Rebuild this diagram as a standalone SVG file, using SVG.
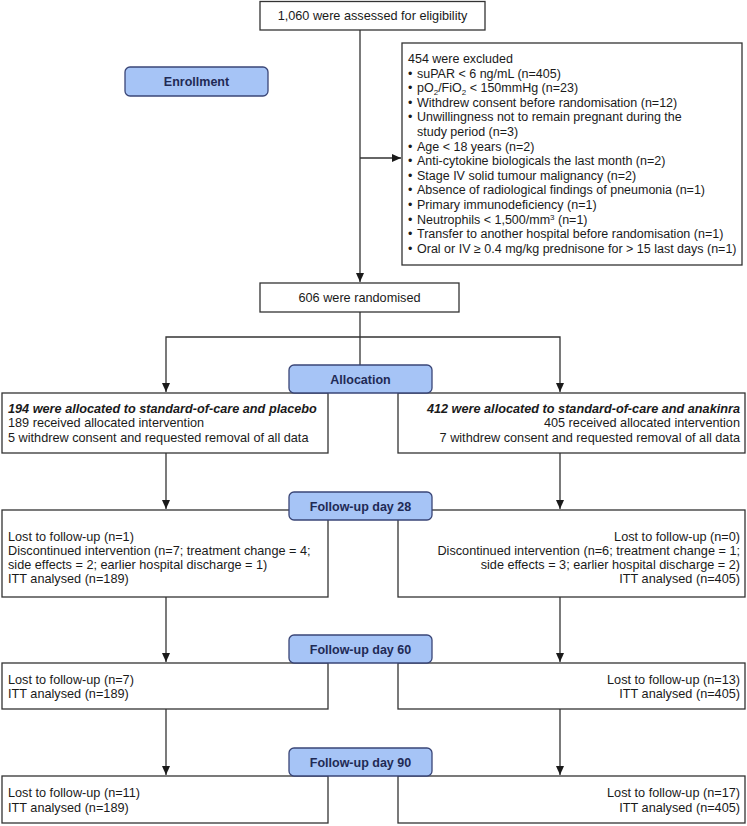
<svg xmlns="http://www.w3.org/2000/svg" width="747" height="826" viewBox="0 0 747 826">
<defs>
<marker id="ah" markerUnits="userSpaceOnUse" markerWidth="9" markerHeight="9" viewBox="0 0 9 9" refX="9" refY="4.5" orient="auto">
<path d="M0,0.5 L9,4.5 L0,8.5 z" fill="#1a1a1a"/>
</marker>
</defs>
<style>
.box{fill:#ffffff;stroke:#333333;stroke-width:1.3}
.lab{fill:#a6c4f6;stroke:#3a4677;stroke-width:1.3}
.t{font-family:"Liberation Sans",Arial,sans-serif;font-size:12.7px;fill:#1a1a1a}
.s{font-family:"Liberation Sans",Arial,sans-serif;font-size:12.5px;fill:#1a1a1a}
.lt{font-family:"Liberation Sans",Arial,sans-serif;font-size:12.5px;font-weight:bold;fill:#1f2a55;text-anchor:middle}
.bi{font-weight:bold;font-style:italic}
.r{text-anchor:end}
.c{text-anchor:middle}
.ln{fill:none;stroke:#333333;stroke-width:1.3}
.sub{font-size:8px}
</style>
<rect width="747" height="826" fill="#ffffff"/>
<g id="connectors">
<path class="ln" d="M360,30 V282" marker-end="url(#ah)"/>
<path class="ln" d="M360,158 H401" marker-end="url(#ah)"/>
<path class="ln" d="M360,312 V365"/>
<path class="ln" d="M360,337 H166 V392" marker-end="url(#ah)"/>
<path class="ln" d="M360,337 H560 V392" marker-end="url(#ah)"/>
<path class="ln" d="M166,453 V509" marker-end="url(#ah)"/>
<path class="ln" d="M560,453 V509" marker-end="url(#ah)"/>
<path class="ln" d="M166,597 V662" marker-end="url(#ah)"/>
<path class="ln" d="M560,597 V662" marker-end="url(#ah)"/>
<path class="ln" d="M166,709 V775" marker-end="url(#ah)"/>
<path class="ln" d="M560,709 V775" marker-end="url(#ah)"/>
</g>
<g id="assessed">
<rect class="box" x="260" y="1.5" width="225" height="28.5"/>
<text class="t c" x="372.5" y="20">1,060 were assessed for eligibility</text>
</g>
<g id="enrollment">
<rect class="lab" x="125" y="67" width="143" height="29" rx="5"/>
<text class="lt" x="196.5" y="86">Enrollment</text>
</g>
<g id="excluded">
<rect class="box" x="402" y="43" width="340" height="222"/>
<text class="s" x="408" y="63">454 were excluded</text>
<text class="s" x="408" y="77.6">•</text><text class="s" x="417" y="77.6">suPAR &lt; 6 ng/mL (n=405)</text>
<text class="s" x="408" y="92.2">•</text><text class="s" x="417" y="92.2">pO<tspan class="sub" dy="3">2</tspan><tspan dy="-3">/FiO</tspan><tspan class="sub" dy="3">2</tspan><tspan dy="-3"> &lt; 150mmHg (n=23)</tspan></text>
<text class="s" x="408" y="106.8">•</text><text class="s" x="417" y="106.8">Withdrew consent before randomisation (n=12)</text>
<text class="s" x="408" y="121.4">•</text><text class="s" x="417" y="121.4">Unwillingness not to remain pregnant during the</text>
<text class="s" x="417" y="136">study period (n=3)</text>
<text class="s" x="408" y="150.6">•</text><text class="s" x="417" y="150.6">Age &lt; 18 years (n=2)</text>
<text class="s" x="408" y="165.2">•</text><text class="s" x="417" y="165.2">Anti-cytokine biologicals the last month (n=2)</text>
<text class="s" x="408" y="179.8">•</text><text class="s" x="417" y="179.8">Stage IV solid tumour malignancy (n=2)</text>
<text class="s" x="408" y="194.4">•</text><text class="s" x="417" y="194.4">Absence of radiological findings of pneumonia (n=1)</text>
<text class="s" x="408" y="209">•</text><text class="s" x="417" y="209">Primary immunodeficiency (n=1)</text>
<text class="s" x="408" y="223.6">•</text><text class="s" x="417" y="223.6">Neutrophils &lt; 1,500/mm<tspan class="sub" dy="-4">3</tspan><tspan dy="4"> (n=1)</tspan></text>
<text class="s" x="408" y="238.2">•</text><text class="s" x="417" y="238.2">Transfer to another hospital before randomisation (n=1)</text>
<text class="s" x="408" y="252.8">•</text><text class="s" x="417" y="252.8">Oral or IV ≥ 0.4 mg/kg prednisone for &gt; 15 last days (n=1)</text>
</g>
<g id="randomised">
<rect class="box" x="260" y="283" width="199" height="29"/>
<text class="t c" x="359.5" y="302">606 were randomised</text>
</g>
<g id="placebo-arm">
<rect class="box" x="2" y="393" width="326" height="60"/>
<text class="t bi" x="8" y="412.5">194 were allocated to standard-of-care and placebo</text>
<text class="t" x="8" y="427">189 received allocated intervention</text>
<text class="t" x="8" y="441.5">5 withdrew consent and requested removal of all data</text>
</g>
<g id="anakinra-arm">
<rect class="box" x="398" y="393" width="347" height="60"/>
<text class="t bi r" x="740" y="412.5">412 were allocated to standard-of-care and anakinra</text>
<text class="t r" x="740" y="427">405 received allocated intervention</text>
<text class="t r" x="740" y="441.5">7 withdrew consent and requested removal of all data</text>
</g>
<g id="placebo-day28">
<rect class="box" x="2" y="510" width="326" height="87"/>
<text class="t" x="8" y="540.5">Lost to follow-up (n=1)</text>
<text class="t" x="8" y="554.5">Discontinued intervention (n=7; treatment change = 4;</text>
<text class="t" x="8" y="568.5">side effects = 2; earlier hospital discharge = 1)</text>
<text class="t" x="8" y="582.5">ITT analysed (n=189)</text>
</g>
<g id="anakinra-day28">
<rect class="box" x="398" y="510" width="347" height="87"/>
<text class="t r" x="740" y="540.5">Lost to follow-up (n=0)</text>
<text class="t r" x="740" y="554.5">Discontinued intervention (n=6; treatment change = 1;</text>
<text class="t r" x="740" y="568.5">side effects = 3; earlier hospital discharge = 2)</text>
<text class="t r" x="740" y="582.5">ITT analysed (n=405)</text>
</g>
<g id="placebo-day60">
<rect class="box" x="2" y="663" width="326" height="46"/>
<text class="t" x="8" y="683.5">Lost to follow-up (n=7)</text>
<text class="t" x="8" y="698">ITT analysed (n=189)</text>
</g>
<g id="anakinra-day60">
<rect class="box" x="398" y="663" width="347" height="46"/>
<text class="t r" x="740" y="683.5">Lost to follow-up (n=13)</text>
<text class="t r" x="740" y="698">ITT analysed (n=405)</text>
</g>
<g id="placebo-day90">
<rect class="box" x="2" y="776" width="326" height="47"/>
<text class="t" x="8" y="797">Lost to follow-up (n=11)</text>
<text class="t" x="8" y="811.5">ITT analysed (n=189)</text>
</g>
<g id="anakinra-day90">
<rect class="box" x="398" y="776" width="347" height="47"/>
<text class="t r" x="740" y="797">Lost to follow-up (n=17)</text>
<text class="t r" x="740" y="811.5">ITT analysed (n=405)</text>
</g>
<g id="allocation">
<rect class="lab" x="289" y="365" width="143" height="28" rx="5"/>
<text class="lt" x="360.5" y="383.5">Allocation</text>
</g>
<g id="followup28">
<rect class="lab" x="289" y="492" width="143" height="28" rx="5"/>
<text class="lt" x="360.5" y="510.5">Follow-up day 28</text>
</g>
<g id="followup60">
<rect class="lab" x="289" y="635" width="143" height="28" rx="5"/>
<text class="lt" x="360.5" y="653.5">Follow-up day 60</text>
</g>
<g id="followup90">
<rect class="lab" x="289" y="748" width="143" height="28" rx="5"/>
<text class="lt" x="360.5" y="766.5">Follow-up day 90</text>
</g>
</svg>
